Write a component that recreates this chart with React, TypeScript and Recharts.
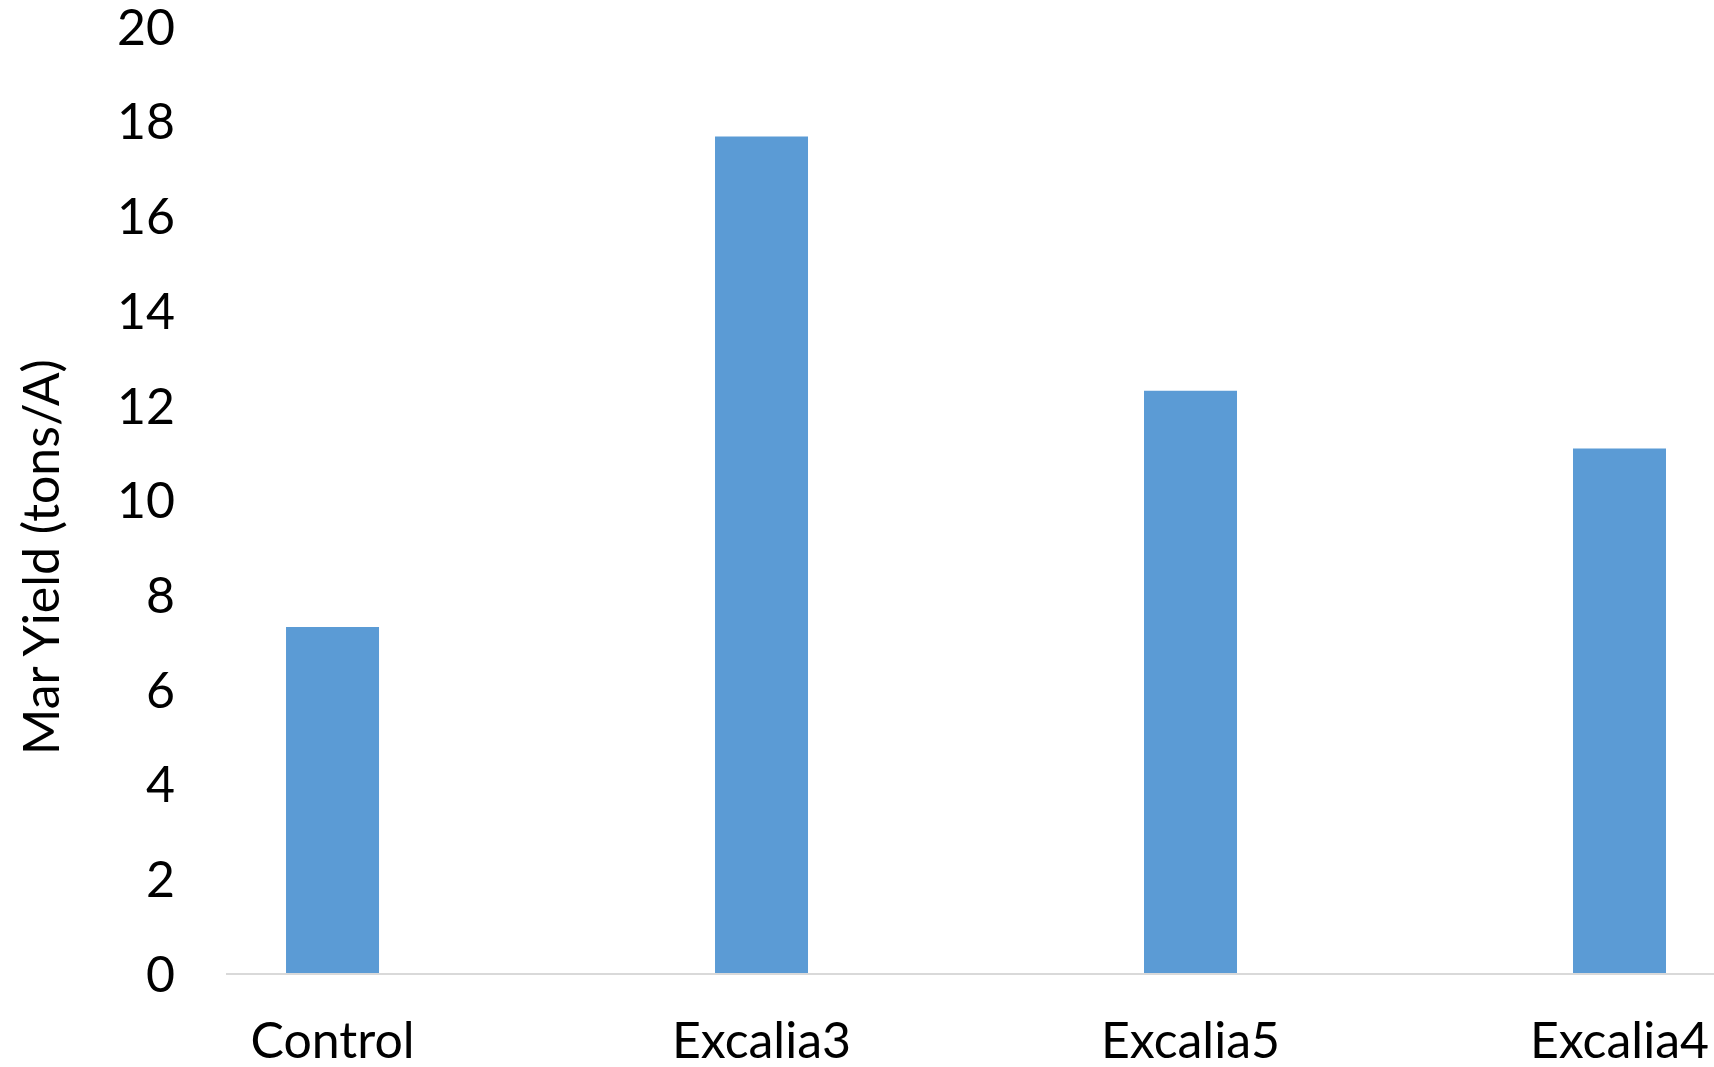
import React from "react";
import { BarChart, Bar, XAxis, YAxis } from "recharts";

const categories = ["Control", "Excalia3", "Excalia5", "Excalia4"];
const yieldValues = [7.33, 17.69, 12.32, 11.1];
const yTicks = [0, 2, 4, 6, 8, 10, 12, 14, 16, 18, 20];

const data = categories.map((name, idx) => ({ idx, name, value: yieldValues[idx] }));

const font = "Lato, 'Open Sans', sans-serif";
const tickStyle = { fill: "#000", fontSize: 50, fontFamily: font };

function YTitle() {
  return (
    <text
      x={40}
      y={557}
      transform="rotate(-90 40 557)"
      textAnchor="middle"
      dominantBaseline="central"
      fill="#000"
      fontSize={50}
      fontFamily={font}
    >
      Mar Yield (tons/A)
    </text>
  );
}

export default function App() {
  return (
    <div style={{ position: "absolute", left: 0, top: 0, width: 1714, height: 1067, overflow: "hidden", background: "#fff" }}>
      <BarChart width={1714} height={1067} data={data} margin={{ top: 27, right: 0, bottom: 0, left: 0 }}>
        <XAxis
          type="number"
          dataKey="idx"
          domain={[-0.2483, 3.2203]}
          ticks={[0, 1, 2, 3]}
          tickFormatter={(i: number) => categories[i]}
          height={93}
          tickLine={false}
          tickSize={0}
          tickMargin={48}
          axisLine={{ stroke: "#d9d9d9", strokeWidth: 2 }}
          tick={tickStyle}
          interval={0}
        />
        <YAxis
          domain={[0, 20]}
          ticks={yTicks}
          width={226}
          axisLine={false}
          tickLine={false}
          tickSize={0}
          tickMargin={51}
          tick={tickStyle}
          interval={0}
          label={{ content: () => <YTitle /> }}
        />
        <Bar dataKey="value" fill="#5b9bd5" barSize={93} isAnimationActive={false} />
      </BarChart>
    </div>
  );
}
